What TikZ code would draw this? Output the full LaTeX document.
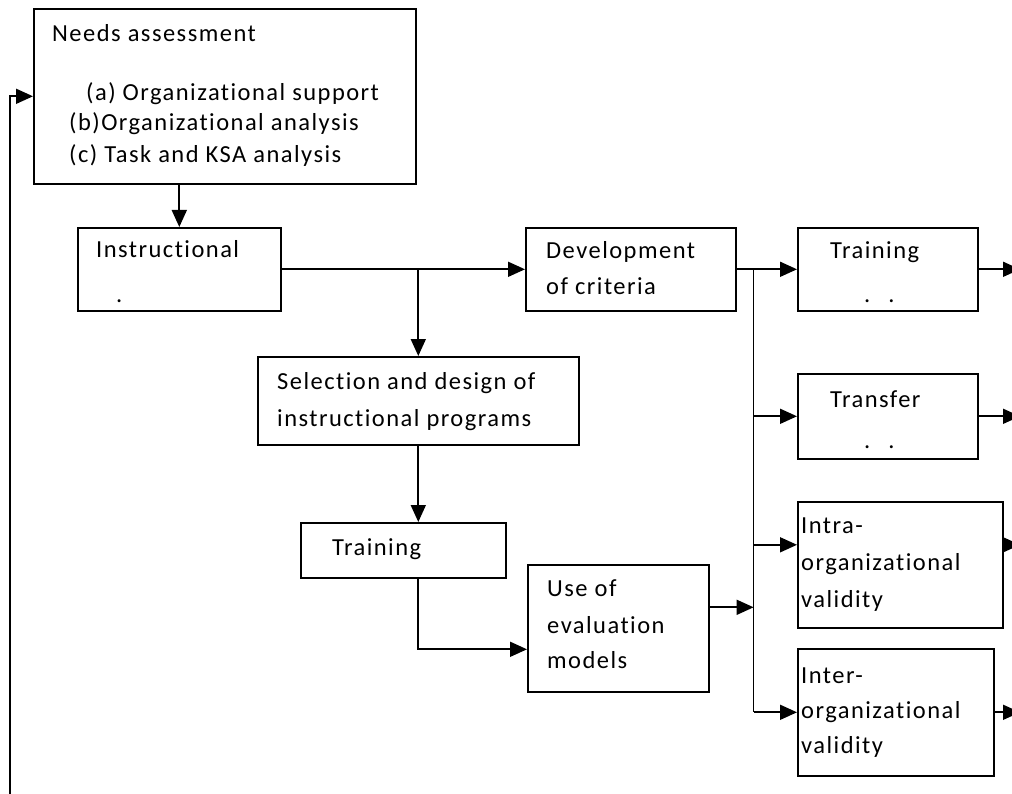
\documentclass[tikz,border=0pt]{standalone}
\usepackage{fontspec}
\setmainfont{Carlito}[LetterSpace=6.0, Ligatures=NoCommon]
\usepackage{tikz}
\usetikzlibrary{arrows.meta, calc, positioning}

\tikzset{
  box/.style={draw, line width=1.6pt, rectangle, anchor=north west, inner sep=0pt},
  txt/.style={anchor=base west, inner sep=0pt},
  link/.style={line width=1.7pt},
  arr/.style={link, -{Triangle[length=17pt, width=15pt]}}
}

\begin{document}
\begin{tikzpicture}[x=1pt, y=-1pt, font=\fontsize{24.5}{30}\selectfont]
    \useasboundingbox (0,0) rectangle (1012,794);
    \clip (0,0) rectangle (1012,794);

    % Kaesten
    \node[box, minimum width=382pt, minimum height=175pt] (needs) at (33,8) {};
    \node[box, minimum width=203pt, minimum height=83pt] (instr) at (77,227) {};
    \node[box, minimum width=210pt, minimum height=83pt] (dev) at (525,227) {};
    \node[box, minimum width=321pt, minimum height=88pt] (sel) at (257,356) {};
    \node[box, minimum width=205pt, minimum height=55pt] (train) at (300,522) {};
    \node[box, minimum width=181pt, minimum height=127pt] (use) at (527,564) {};
    \node[box, minimum width=180pt, minimum height=83pt] (tro) at (797,227) {};
    \node[box, minimum width=180pt, minimum height=85pt] (tra) at (797,373) {};
    \node[box, minimum width=205pt, minimum height=126pt] (intra) at (797,501) {};
    \node[box, minimum width=196pt, minimum height=127pt] (inter) at (797,648) {};

    % Texte
    \node[txt] (needs1) at (52,42) {Needs assessment};
    \node[txt] (needs2) at (86,101) {(a) Organizational support};
    \node[txt] (needs3) at (69,131) {(b)Organizational analysis};
    \node[txt] (needs4) at (69,163) {(c) Task and KSA analysis};

    \node[txt] (instr1) at (96,258) {Instructional};
    \node[txt] (instr2) at (116,302) {.};

    \node[txt] (dev1) at (546,259) {Development};
    \node[txt] (dev2) at (546,295) {of criteria};

    \node[txt] (sel1) at (277,389) {Selection and design of};
    \node[txt] (sel2) at (277,426) {instructional programs};

    \node[txt] (train1) at (332,555) {Training};

    \node[txt] (use1) at (547,596) {Use of};
    \node[txt] (use2) at (547,633) {evaluation};
    \node[txt] (use3) at (547,668) {models};

    \node[txt] (tro1) at (830,259) {Training};
    \node[txt] (tro2) at (864,302) {.\hspace{18pt}.};

    \node[txt] (tra1) at (830,407) {Transfer};
    \node[txt] (tra2) at (864,448) {.\hspace{18pt}.};

    \node[txt] (intra1) at (801,533) {Intra-};
    \node[txt] (intra2) at (801,570) {organizational};
    \node[txt] (intra3) at (801,607) {validity};

    \node[txt] (inter1) at (801,683) {Inter-};
    \node[txt] (inter2) at (801,718) {organizational};
    \node[txt] (inter3) at (801,753) {validity};

    % Hilfspunkte
    \coordinate (fb) at (10,794);
    \coordinate (bus) at ($(dev.east)+(17,0)$);
    \coordinate (rim) at (1020,0);

    % Verbindungen
    \draw[arr] (fb) |- (needs.west);
    \draw[arr] (needs.south -| instr.north) -- (instr.north);
    \draw[arr] (instr.east) -- (dev.west);
    \draw[arr] (instr.east -| sel.north) -- (sel.north);
    \draw[arr] (sel.south) -- (sel.south |- train.north);
    \draw[arr] (sel.south |- train.south) |- ([yshift=-21pt]use.west);

    % Sammelleitung rechts
    \draw[link] (dev.east) -- (bus) -- (bus |- inter.west);
    \draw[arr] (bus) -- (tro.west);
    \draw[arr] (bus |- tra.west) -- (tra.west);
    \draw[arr] ([yshift=20pt]intra.west -| bus) -- ([yshift=20pt]intra.west);
    \draw[arr] (bus |- inter.west) -- (inter.west);
    \draw[arr] ([yshift=21pt]use.east) -- ([yshift=21pt]use.east -| bus);

    % Ausgaenge
    \draw[arr] (tro.east) -- (tro.east -| rim);
    \draw[arr] (tra.east) -- (tra.east -| rim);
    \draw[arr] ([yshift=20pt]intra.east) -- ([yshift=20pt]intra.east -| rim);
    \draw[arr] (inter.east) -- (inter.east -| rim);
\end{tikzpicture}
\end{document}
